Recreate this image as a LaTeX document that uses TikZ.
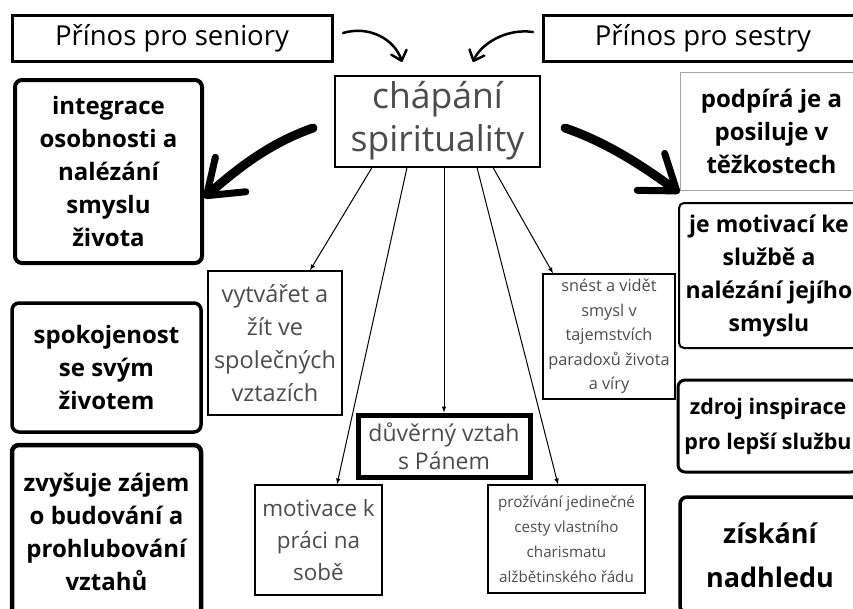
\documentclass[tikz,border=0pt]{standalone}
\usepackage{fontspec}
\setmainfont{Open Sans}
\usetikzlibrary{arrows.meta,positioning}

\begin{document}
\begin{tikzpicture}[
        x=1pt, y=-1pt,
        heading/.style={draw, line width=3pt, minimum width=320pt, minimum height=46pt, inner sep=0pt, font=\fontsize{27.5}{30}\selectfont},
        gain/.style={draw, rounded corners=7pt, line width=3.5pt, align=center, inner sep=0pt, font=\bfseries\fontsize{24}{33}\selectfont},
        idea/.style={draw, line width=1.3pt, align=center, inner sep=0pt, text=black!70, font=\fontsize{23.5}{33}\selectfont},
        smallidea/.style={idea, font=\fontsize{16.3}{24.5}\selectfont},
        link/.style={->, line width=1pt},
        swing/.style={line width=2.5pt, line cap=round, -{Straight Barb[length=9pt, width=16pt, round]}},
        bigarrow/.style={line width=9pt, line cap=round, -{Straight Barb[length=32pt, width=46pt, line width=7pt, round]}},
        >=latex
    ]
        \useasboundingbox (0,0) rectangle (853,608);
        \clip (0,0) rectangle (853,608);

        % headings
        \node[heading] (seniors) at (172,38.5) {Přínos pro seniory};
        \node[heading] (sisters) at (703,38.5) {Přínos pro sestry};

        % centre
        \node[draw, line width=2pt, minimum width=205pt, minimum height=91pt, align=center, inner sep=0pt,
              text=black!70, font=\fontsize{35.5}{43}\selectfont] (chap) at (437.5,121) {chápání\\spirituality};

        % left column
        \node[gain, line width=4pt, minimum width=187pt, minimum height=183pt] (integ) at (108.5,171.5)
            {integrace\\osobnosti a\\nalézání\\smyslu\\života};
        \node[gain, minimum width=189pt, minimum height=129pt] (spok) at (106.5,367.5)
            {spokojenost\\se svým\\životem};
        \node[gain, line width=4.5pt, minimum width=189pt, minimum height=174pt] (zajem) at (106.5,532)
            {zvyšuje zájem\\o budování a\\prohlubování\\vztahů};

        % middle
        \node[idea, minimum width=134pt, minimum height=144pt] (vytv) at (275,343)
            {vytvářet a\\žít ve\\společných\\vztazích};
        \node[idea, line width=5pt, minimum width=172pt, minimum height=62pt, font=\fontsize{23}{28}\selectfont] (duv) at (444,446)
            {důvěrný vztah\\s Pánem};
        \node[idea, minimum width=127pt, minimum height=110pt, font=\fontsize{22.4}{32}\selectfont] (motiv) at (318.5,540)
            {motivace k\\práci na\\sobě};
        \node[smallidea, font=\fontsize{15.2}{25}\selectfont, minimum width=157pt, minimum height=108pt] (proz) at (566.5,539)
            {prožívání jedinečné\\cesty vlastního\\charismatu\\alžbětinského řádu};
        \node[smallidea, minimum width=132pt, minimum height=125pt] (snest) at (609,336.5)
            {snést a vidět\\smysl v\\tajemstvích\\paradoxů života\\a víry};

        % right column
        \node[gain, line width=1pt, draw=black!35, rounded corners=0pt, minimum width=183pt, minimum height=118pt] (podp) at (771.5,131)
            {podpírá je a\\posiluje v\\těžkostech};
        \node[gain, line width=2pt, rounded corners=5pt, minimum width=180pt, minimum height=145pt, font=\bfseries\fontsize{23}{33}\selectfont] (sluz) at (769,275.5)
            {je motivací ke\\službě a\\nalézání jejího\\smyslu};
        \node[gain, line width=3pt, minimum width=180pt, minimum height=92pt, font=\bfseries\fontsize{21.5}{35}\selectfont] (zdroj) at (768,426)
            {zdroj inspirace\\pro lepší službu};
        \node[gain, minimum width=180pt, minimum height=116pt, font=\bfseries\fontsize{27}{44}\selectfont] (nadh) at (770,555)
            {získání\\nadhledu};

        % arrows
        \coordinate (ls) at (343,33);
        \coordinate (le) at (402,62);
        \coordinate (rs) at (533,32);
        \coordinate (re) at (473,62);
        \draw[swing] (ls) .. controls (370,25) and (395,40) .. (le);
        \draw[swing] (rs) .. controls (505,28) and (480,45) .. (re);

        \coordinate (bl) at (313,128);
        \coordinate (br) at (565,128);
        \draw[bigarrow] (bl) .. controls (270,143) and (238,168) .. (integ.east |- 0,198);
        \draw[bigarrow] (br) .. controls (600,140) and (635,160) .. (podp.west |- 0,193);

        \draw[link] ([xshift=-65.5pt]chap.south) -- ([xshift=35pt]vytv.north);
        \draw[link] ([xshift=-30.5pt]chap.south) -- ([xshift=18.5pt]motiv.north);
        \draw[link] (duv.north |- chap.south) -- (duv.north);
        \draw[link] ([xshift=39.5pt]chap.south) -- ([xshift=-8.5pt]proz.north);
        \draw[link] ([xshift=55.5pt]chap.south) -- ([xshift=-56pt]snest.north);
    \end{tikzpicture}
\end{document}
